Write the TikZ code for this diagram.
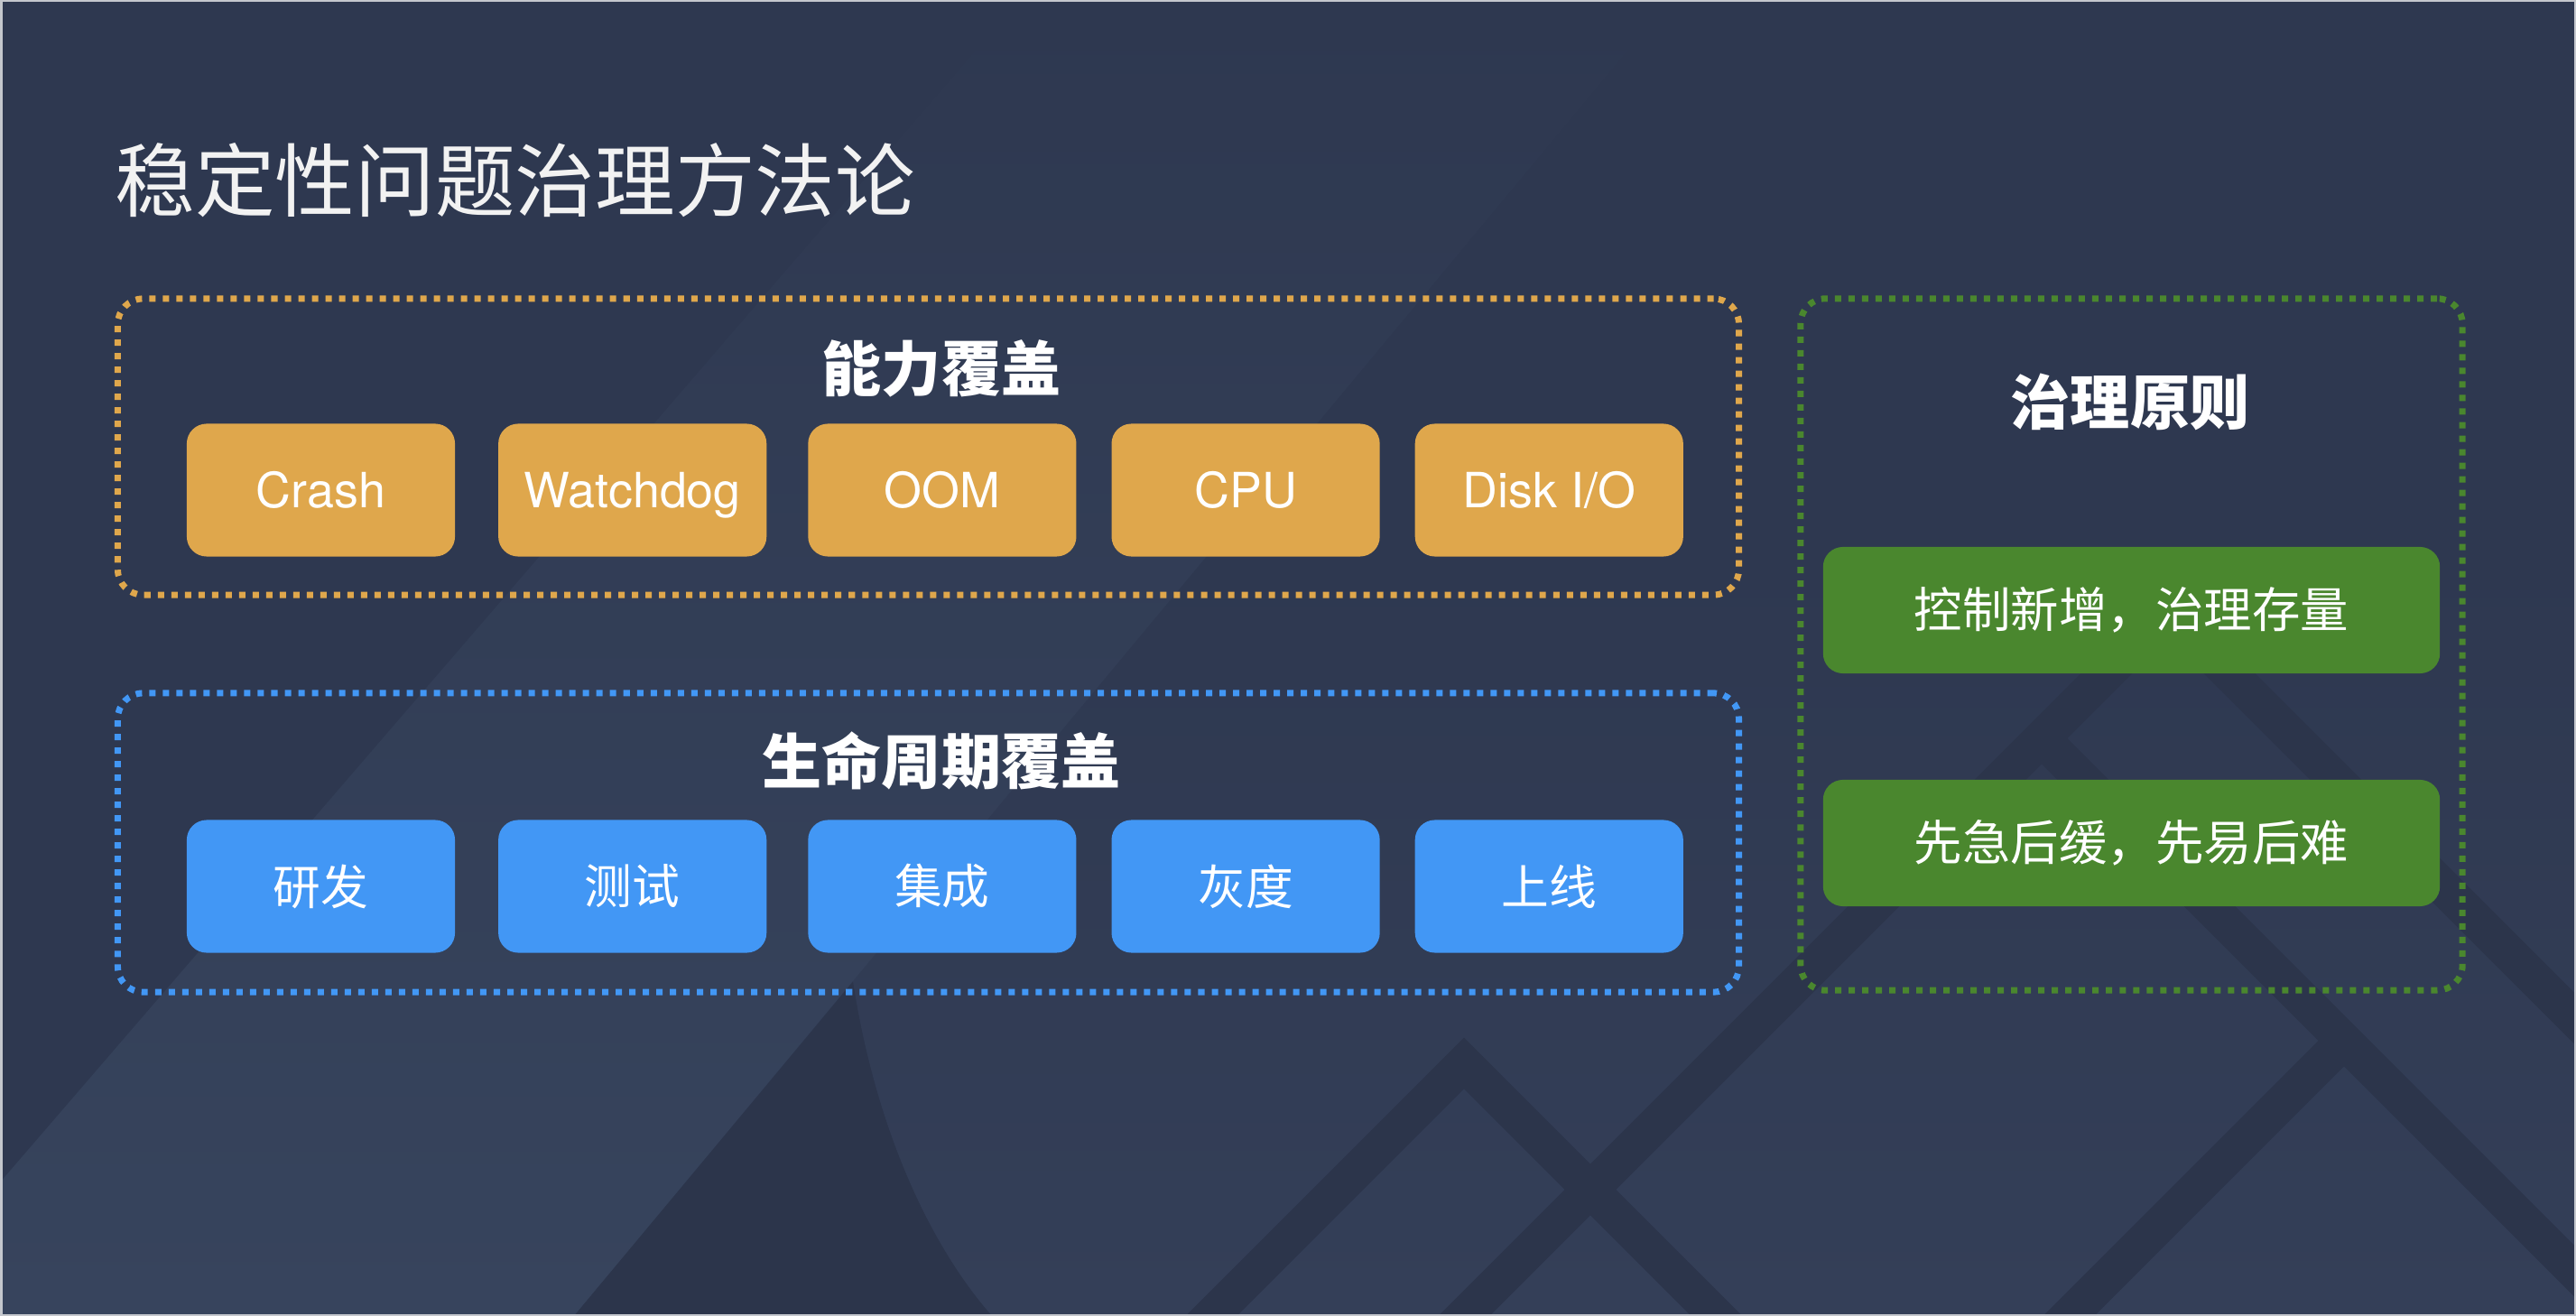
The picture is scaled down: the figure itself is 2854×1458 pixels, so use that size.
\documentclass[tikz,border=0pt]{standalone}
\usepackage{fontspec}
\setmainfont{TeX Gyre Heros}
\newfontfamily\cjk{Noto Sans CJK SC}
\usepackage{xcolor}
\usepackage{tikz}
\usetikzlibrary{
    positioning
}
\definecolor{slatebg}{HTML}{2E3850}
\definecolor{slatelow}{HTML}{343F58}
\definecolor{slatelight}{HTML}{37445D}
\definecolor{slatedark}{HTML}{2C354B}
\definecolor{framegray}{HTML}{C4C7CD}
\definecolor{capamber}{HTML}{DFA74C}
\definecolor{lifeblue}{HTML}{4297F5}
\definecolor{rulegreen}{HTML}{4A872E}
\tikzset{
  tile/.style = {
      rectangle,
      rounded corners=0.22cm,
      minimum width=2.97cm,
      minimum height=1.47cm,
      inner sep=0pt,
      outer sep=0pt,
      text=white,
      align=center
  },
  amber/.style = {
      tile,
      fill=capamber,
      text height=11pt,
      text depth=0pt,
      font=\fontsize{15.3}{18}\selectfont
  },
  sky/.style = {
      tile,
      fill=lifeblue,
      font=\cjk\fontsize{15}{18}\selectfont
  },
  leaf/.style = {
      tile,
      fill=rulegreen,
      minimum width=6.83cm,
      minimum height=1.40cm,
      font=\cjk\fontsize{15.2}{18}\selectfont
  },
  dotframe/.style = {
      draw,
      rectangle,
      rounded corners=0.28cm,
      line width=0.07cm,
      dash pattern=on 0.07cm off 0.08cm,
      inner sep=0pt
  },
  heading/.style = {
      text=white,
      inner sep=0pt,
      font=\cjk\bfseries\fontsize{18.8}{22}\selectfont
  },
  headline/.style = {
      text=white!95!black,
      inner sep=0pt,
      anchor=west,
      font=\cjk\fontsize{25.2}{30}\selectfont
  },
  lattice/.style = {
      draw=slatedark,
      line width=0.40cm,
      line join=miter
  }
}

\begin{document}
\begin{tikzpicture}[x=0.01cm, y=-0.01cm]
    \useasboundingbox (0,0) rectangle (2854,1458);
    % Background
    \begin{scope}
    \clip (0,0) rectangle (2854,1458);
    \fill[slatebg] (0,0) rectangle (2854,1458);
    \shade[top color=slatebg, bottom color=slatelow]
        (945,600) -- (2854,600) -- (2854,1458) -- (1099,1458)
        .. controls (1030,1380) and (970,1250) .. (945,1088) -- cycle;
    \shade[top color=slatebg, bottom color=slatelight]
        (0,1310) -- (1129,0) -- (1850,0) -- (636,1458) -- (0,1458) -- cycle;
    \fill[slatedark] (636,1458) -- (945,1088)
        .. controls (970,1250) and (1030,1380) .. (1099,1458) -- cycle;
    \draw[lattice] (1322,1478) -- (1622,1178) -- (1922,1478);
    \draw[lattice] (1570,1510) -- (2402,678) -- (3300,1576);
    \draw[lattice] (2262,818) -- (2920,1476);
    \draw[lattice] (2597,1153) -- (2272,1478);
    \end{scope}
    \draw[framegray, line width=0.05cm] (0,0) rectangle (2854,1458);
    % Nodes
    \node[headline] (title) at (127,200) {稳定性问题治理方法论};

    \node[dotframe, draw=capamber, minimum width=17.95cm, minimum height=3.28cm]
        (capframe) at (1028.5,495) {};
    \node[heading] (caphead) at (1043,408) {能力覆盖};
    \node[amber] (crash) at (355.5,543) {Crash};
    \node[amber, right=0.48cm of crash] (watchdog) {Watchdog};
    \node[amber, right=0.46cm of watchdog] (oom) {OOM};
    \node[amber, right=0.39cm of oom] (cpu) {CPU};
    \node[amber, right=0.39cm of cpu] (diskio) {Disk I/O};

    \node[dotframe, draw=lifeblue, minimum width=17.95cm, minimum height=3.31cm]
        (lifeframe) at (1028.5,933.5) {};
    \node[heading] (lifehead) at (1043,843) {生命周期覆盖};
    \node[sky] (dev) at (355.5,982) {研发};
    \node[sky, right=0.48cm of dev] (test) {测试};
    \node[sky, right=0.46cm of test] (integ) {集成};
    \node[sky, right=0.39cm of integ] (gray) {灰度};
    \node[sky, right=0.39cm of gray] (launch) {上线};

    \node[dotframe, draw=rulegreen, minimum width=7.33cm, minimum height=7.66cm]
        (ruleframe) at (2361.5,714) {};
    \node[heading] (rulehead) at (2360,445) {治理原则};
    \node[leaf] (stock) at (2361.5,676) {控制新增，治理存量};
    \node[leaf] (urgent) at (2361.5,934) {先急后缓，先易后难};
\end{tikzpicture}
\end{document}
